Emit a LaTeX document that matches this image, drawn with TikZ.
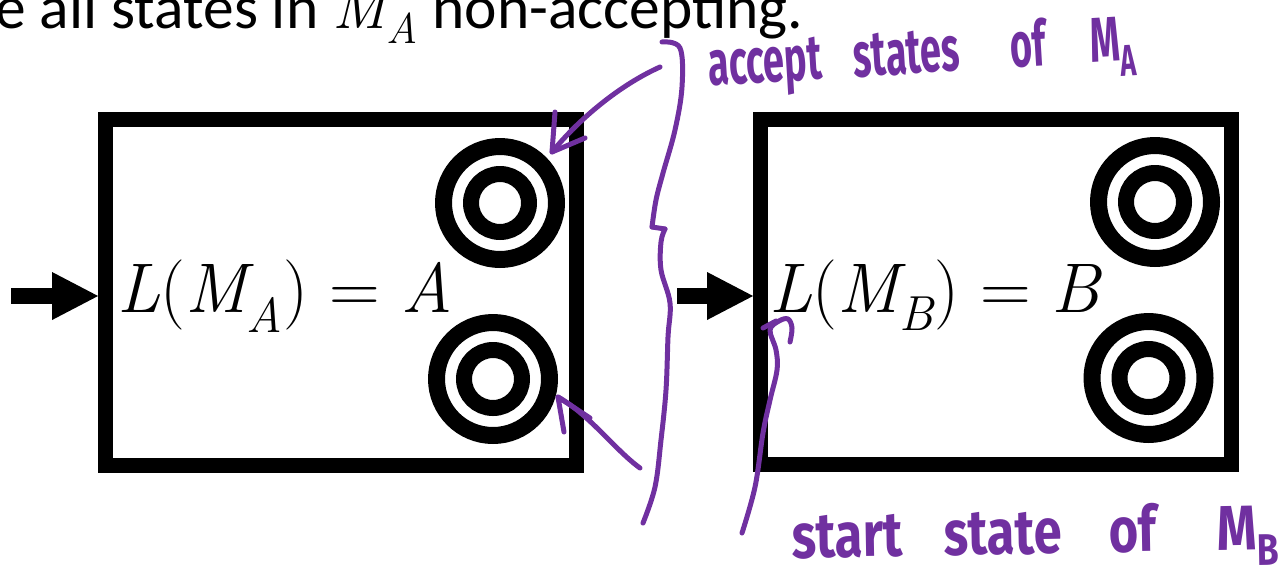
\documentclass[tikz,border=0pt]{standalone}
\usepackage{fontspec}
\setmainfont{Carlito}
\newfontfamily\lmfont{Latin Modern Roman}
\newfontfamily\handfont[FakeStretch=0.6]{Fira Sans}
\usetikzlibrary{arrows.meta}
\definecolor{inkpurple}{RGB}{112,48,160}
\newcommand\mvar[1]{{\lmfont\itshape #1}}

\begin{document}
\begin{tikzpicture}[
  x=0.02cm, y=-0.02cm,
  machine/.style={rectangle, draw=black, line width=0.3cm, minimum width=9.43cm, minimum height=6.92cm, inner sep=0pt},
  acceptout/.style={circle, draw=black, line width=0.34cm, minimum size=2.26cm, inner sep=0pt},
  acceptin/.style={circle, draw=black, line width=0.32cm, minimum size=1.16cm, inner sep=0pt},
  startarrow/.style={line width=0.32cm, -{Triangle[length=0.92cm, width=0.96cm, line width=0pt]}},
  mathlabel/.style={font=\lmfont\fontsize{40}{48}\selectfont, inner sep=0pt, anchor=base},
  ink/.style={draw=inkpurple, line width=0.1cm, line cap=round, line join=round},
  inktext/.style={text=inkpurple, font=\handfont\bfseries\fontsize{36}{42}\selectfont, inner sep=0pt, anchor=base west},
]
\useasboundingbox (0,0) rectangle (1287,572);

% ---- heading line (cut off by the page) ----
\node[anchor=base west, inner sep=0pt, font=\fontsize{35}{42}\selectfont] (head) at (-5,28)
  {e all states in \mvar{M}\textsubscript{\mvar{A}} non-accepting.};

% ---- machine M_A ----
\node[machine] (boxA) at (341.25,292.5) {};
\node[mathlabel] (labA) at (285,312) {\mvar{L}(\mvar{M}\textsubscript{\mvar{A}}) = \mvar{A}};
\node[acceptout] (qa1) at (500,203) {};
\node[acceptin] (qa1in) at (qa1) {};
\node[acceptout] (qa2) at (493,379) {};
\node[acceptin] (qa2in) at (qa2) {};
\coordinate (inA) at (11,296);
\draw[startarrow] (inA) -- (inA -| boxA.west);

% ---- machine M_B ----
\node[machine] (boxB) at (996.25,292) {};
\node[mathlabel] (labB) at (935,312) {\mvar{L}(\mvar{M}\textsubscript{\mvar{B}}) = \mvar{B}};
\node[acceptout] (qb1) at (1155,202) {};
\node[acceptin] (qb1in) at (qb1) {};
\node[acceptout] (qb2) at (1148.5,378) {};
\node[acceptin] (qb2in) at (qb2) {};
\coordinate (inB) at (677,296);
\draw[startarrow] (inB) -- (inB -| boxB.west);

% ---- ink notes ----
\draw[ink] plot[smooth, tension=0.6] coordinates {(662,42) (680,48) (682,87) (675,130) (663,173) (656,200) (652,227)};
\draw[ink] (652,227) -- (665,229);
\draw[ink] plot[smooth, tension=0.6] coordinates {(665,229) (661,242) (661,270) (670,303) (668,337) (666,390) (661,440) (655,487) (643,523)};

\coordinate (tipA1) at (552,152);
\draw[ink] (660,67) .. controls (620,85) and (580,118) .. (tipA1);
\draw[ink] (555,112) -- (tipA1) -- (585,138);

\coordinate (tipA2) at (558,397);
\draw[ink] (640,468) .. controls (615,450) and (590,415) .. (tipA2);
\draw[ink] (564,432) -- (tipA2) -- (590,418);

\draw[ink] plot[smooth, tension=0.6] coordinates {(742,533) (755,487) (763,433) (770,400) (777,370) (776,350) (770,330) (779,321) (788,319) (792,328) (790,342)};
\draw[ink] (763,328) -- (776,321);

\node[inktext, rotate=3.5] (noteA) at (709,86)
  {accept\hspace{0.5em}states\hspace{0.8em}of\hspace{0.7em}M\textsubscript{A}};
\node[inktext, rotate=1] (noteB) at (792,558)
  {\addfontfeature{FakeStretch=0.8}start\hspace{0.65em}state\hspace{0.75em}of\hspace{0.95em}M\textsubscript{B}};

\end{tikzpicture}
\end{document}
